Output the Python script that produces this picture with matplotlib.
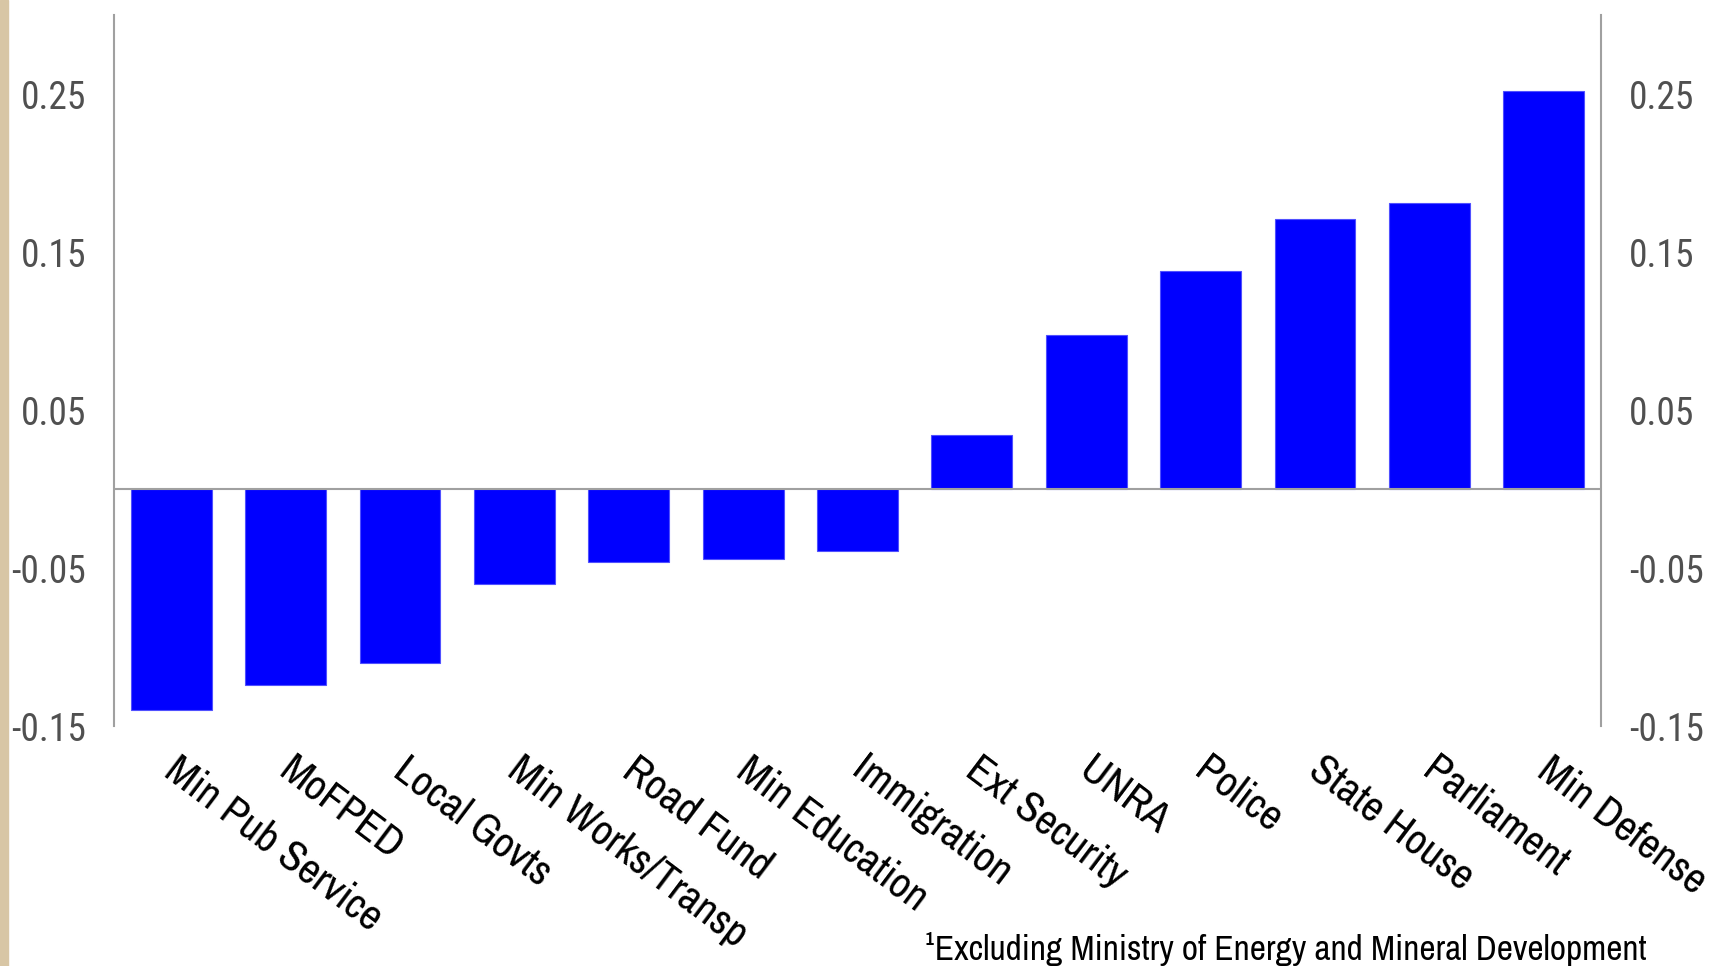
import matplotlib
matplotlib.use('Agg')
import matplotlib.pyplot as plt
from matplotlib.patches import Rectangle
from matplotlib.transforms import ScaledTranslation

# data
categories = ['Min Pub Service', 'MoFPED', 'Local Govts', 'Min Works/Transp',
              'Road Fund', 'Min Education', 'Immigration', 'Ext Security',
              'UNRA', 'Police', 'State House', 'Parliament', 'Min Defense']
values = [-0.140, -0.124, -0.110, -0.060, -0.046, -0.044, -0.039,
          0.034, 0.0975, 0.138, 0.171, 0.181, 0.252]
yticks = [-0.15, -0.05, 0.05, 0.15, 0.25]
ytick_labels = ['-0.15', '-0.05', '0.05', '0.15', '0.25']
footnote = '\u00b9Excluding Ministry of Energy and Mineral Development'

narrow = ['Archivo Narrow', 'Liberation Sans', 'DejaVu Sans']
digits = ['Roboto Condensed', 'Archivo Narrow', 'Roboto', 'DejaVu Sans']
plt.rcParams['font.family'] = narrow

fig = plt.figure(figsize=(17.15, 9.66), dpi=100)
ax = fig.add_axes([0.0665, 0.2484, 0.867, 0.736])

x = list(range(len(categories)))
ax.bar(x, values, width=0.707, color='#0000ff', edgecolor='#5050ff', linewidth=0.8, zorder=2)
ax.axhline(0, color='#a0a0a0', linewidth=1.5, zorder=3)

ax.set_xlim(-0.5, len(categories) - 0.5)
ax.set_ylim(-0.15, 0.30)

ax.set_yticks(yticks)
ax.set_yticklabels(ytick_labels)
ax.tick_params(axis='y', length=0, labelleft=True, labelright=True,
               labelsize=27, labelcolor='#505050', pad=20)
for lab in ax.get_yticklabels() + [t.label2 for t in ax.yaxis.get_major_ticks()]:
    lab.set_family(digits)

ax.set_xticks(x)
ax.set_xticklabels(categories, rotation=-37, ha='left', va='top', rotation_mode='anchor')
ax.tick_params(axis='x', length=0, labelsize=31, pad=17)
shift = ScaledTranslation(0.10, 0, fig.dpi_scale_trans)
for lab in ax.get_xticklabels():
    lab.set_transform(lab.get_transform() + shift)

for s in ['top', 'bottom']:
    ax.spines[s].set_visible(False)
for s in ['left', 'right']:
    ax.spines[s].set_color('#a0a0a0')
    ax.spines[s].set_linewidth(1.5)

# beige strip on the left edge
fig.patches.append(Rectangle((0, 0), 8 / 1715, 1, transform=fig.transFigure,
                             color='#d8c6a5', zorder=0))

fig.text(925 / 1715, 6 / 966, footnote, fontsize=25.5, ha='left', va='baseline')

fig.savefig('out.png', dpi=100)
